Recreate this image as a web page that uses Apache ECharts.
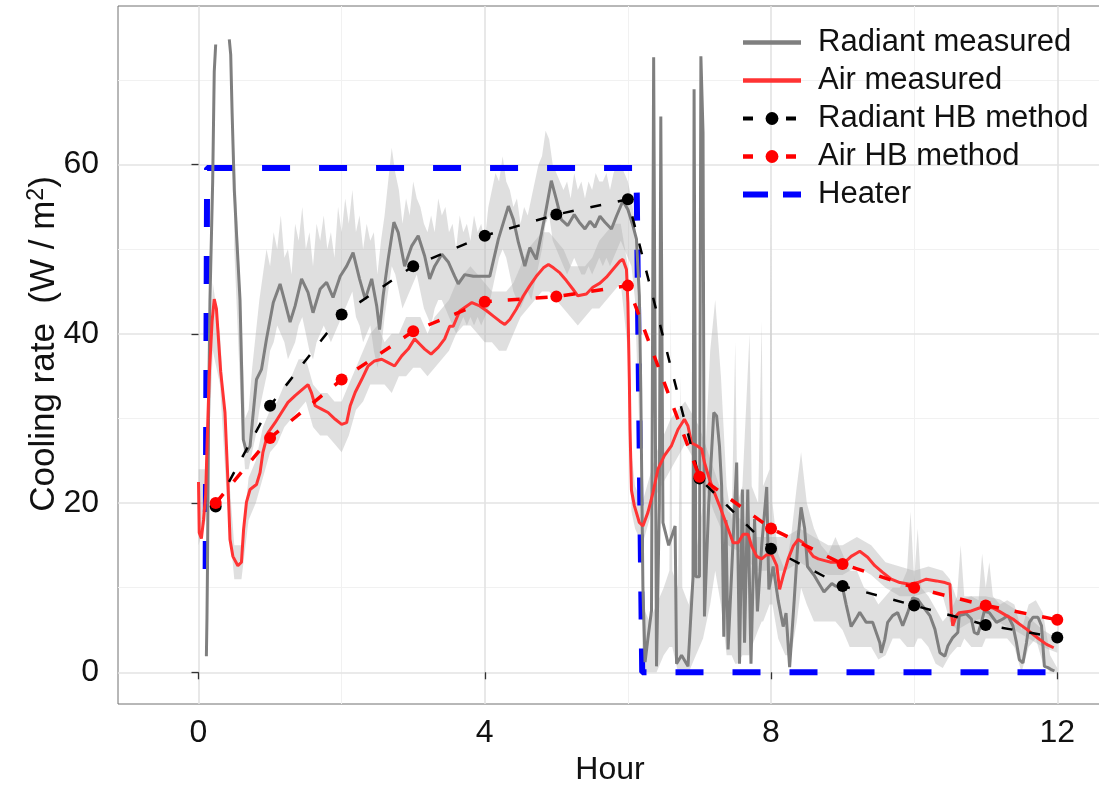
<!DOCTYPE html>
<html><head><meta charset="utf-8">
<script src="https://cdn.jsdelivr.net/npm/echarts@6/dist/echarts.min.js"></script>
<style>html,body{margin:0;padding:0;background:#fff}#c{width:1099px;height:786px}</style>
</head><body><div id="c"></div>
<script>
// ---------------- data ----------------
const xTicks = [0, 4, 8, 12];
const yTicks = [0, 20, 40, 60];
const xMinor = [2, 6, 10];
const yMinor = [10, 30, 50, 70];

const hbHours   = [0.24, 1, 2, 3, 4, 5, 6, 7, 8, 9, 10, 11, 12];
const radiantHB = [19.6, 31.5, 42.3, 48.0, 51.6, 54.1, 55.9, 22.9, 14.6, 10.2, 7.9, 5.6, 4.1];
const airHB     = [20.0, 27.7, 34.6, 40.3, 43.8, 44.4, 45.7, 23.1, 17.0, 12.8, 10.0, 7.9, 6.2];

const heaterH = [0.10, 0.12, 6.12, 6.20, 11.92];
const heaterV = [12.2, 59.6, 59.6, 0, 0];

const radH = [0.110,0.118,0.125,0.14,0.16,0.198,0.22,0.24,0.30,
  0.43,0.45,0.47,0.50,0.53,0.58,0.626,0.673,0.72,0.765,0.81,0.88,0.95,1.045,1.14,1.21,1.28,1.35,1.44,1.53,1.60,1.70,1.79,1.88,1.98,
  2.07,2.16,2.25,2.33,2.42,2.49,2.53,2.58,2.65,2.73,2.79,2.88,2.98,3.07,3.16,3.23,3.30,3.40,3.49,3.58,3.63,3.72,3.84,4.07,4.19,
  4.33,4.40,4.47,4.56,4.63,4.72,4.84,4.93,5.00,5.07,5.16,5.25,5.32,5.40,5.47,5.54,5.61,5.68,5.77,5.84,5.93,6.00,6.07,6.12,6.16,
  6.18,6.21,6.24,6.28,6.33,6.36,6.40,6.44,6.46,6.49,6.57,6.66,6.68,6.75,6.84,6.91,6.925,6.95,7.00,7.02,7.05,7.07,7.13,7.20,7.24,
  7.28,7.31,7.34,7.37,7.40,7.44,7.52,7.56,7.60,7.63,7.675,7.72,7.77,7.81,7.87,7.94,7.97,8.03,8.10,8.17,8.21,8.26,8.32,8.38,8.42,
  8.47,8.51,8.60,8.74,8.85,8.90,9.00,9.05,9.12,9.20,9.24,9.33,9.42,9.52,9.54,9.59,9.63,9.70,9.77,
  9.84,9.91,9.98,10.05,10.12,10.22,10.29,10.36,10.43,10.47,10.54,10.61,10.63,10.73,10.80,10.84,10.89,10.94,10.98,11.05,11.15,
  11.24,11.31,11.38,11.43,11.47,11.52,11.57,11.61,11.66,11.73,11.78,11.80,11.82,11.87,11.91,11.96];
const radV = [1.9,6.3,12,30,44,58,71,74.2,'-',
  74.8,73,66,57,52,44,27.5,26,26.7,30.7,34.6,35.8,39.4,43.7,45.9,43.7,41.4,43.3,46.5,44.9,42.5,45.3,46.1,44.3,46.8,
  48,49.6,46.5,44.1,46.5,43.3,40.5,44.5,48.8,53.2,52,48,50.4,51.6,49.2,46.5,48,49.4,48.5,46.8,45.9,47,46.8,46.8,51.2,
  55.1,53.5,50.8,48,50.2,48.8,53.9,58.1,55.9,53.5,52.8,54.1,53.2,52.4,53.3,52.6,53.9,53.2,52.4,53.9,55.7,54.7,52.8,51.2,44.5,
  33.5,10,1.2,4,7.3,72.7,0.7,20,65.7,17.7,15,17.3,1.0,2,0.7,11.2,68.9,11.3,11.3,72.8,63.8,6.6,20,30.7,30.3,
  26.7,22,4.2,18,2.7,10,24.8,1.0,21.6,3.5,21.6,1.0,18.1,7.2,15,21.9,9.8,12.5,8.5,5.4,7,0.6,8,16,19.5,
  17,12.5,11.5,9.5,10.5,10.2,10,8,5.4,6.5,7.1,5.9,5.9,3.5,2.3,3.9,5.9,6.7,7.05,
  5.5,7.05,8.8,8.6,7.8,6.7,5.1,2.3,1.9,3.1,4.1,4.7,6.7,6.9,6.3,4.7,4.5,5.9,7.2,7.05,5.9,
  6.3,6.7,5.5,3.5,1.5,1.1,3.5,5.9,6.5,6.5,5.5,3.1,0.7,0.55,0.35,0.15];

const airH = [0.0,0.01,0.04,0.07,0.10,0.12,0.15,0.19,0.22,0.25,0.27,0.31,0.37,0.41,0.44,0.48,0.55,0.60,0.63,0.67,0.72,0.81,0.86,
  0.90,0.97,1.07,1.16,1.25,1.35,1.46,1.53,1.58,1.63,1.72,1.81,1.91,2.00,2.07,2.12,2.19,2.28,2.37,2.46,2.56,2.65,2.74,2.84,2.93,
  3.02,3.09,3.16,3.25,3.35,3.44,3.51,3.56,3.65,3.75,3.82,3.93,4.03,4.12,4.21,4.28,4.35,4.44,4.54,4.63,4.72,4.82,4.89,4.96,5.05,
  5.14,5.23,5.30,5.42,5.51,5.61,5.70,5.79,5.89,5.93,5.98,6.00,6.02,6.03,6.05,6.09,6.16,6.21,6.28,6.35,6.42,6.51,6.61,6.70,6.79,
  6.84,6.89,6.96,7.03,7.07,7.14,7.21,7.28,7.35,7.42,7.47,7.54,7.61,7.68,7.73,7.80,7.87,7.94,8.01,8.08,8.12,8.17,8.24,8.31,8.38,
  8.45,8.52,8.59,8.66,8.75,8.84,8.94,9.03,9.12,9.20,9.24,9.35,9.45,9.56,9.68,9.80,9.94,10.05,10.17,10.31,10.43,10.50,10.52,10.54,
  10.59,10.63,10.78,10.91,11.01,11.10,11.19,11.29,11.38,11.47,11.57,11.66,11.75,11.85,11.95];
const airV = [22.5,16.5,15.8,18,21,27,35,41.5,44.1,43,40.5,35.5,30.7,22.8,15.7,13.7,12.6,13,16.9,20.1,21.6,22.2,23.6,
  26,28.3,29.5,30.7,31.9,32.7,33.5,34,33,31.5,31.1,30.7,29.9,29.3,29.5,31.5,33.1,34.6,36.2,36.8,37,36.6,36.2,37.4,38.2,
  39.4,38.8,38.2,37.6,38.4,39.4,40.9,40.9,42.7,43.3,43.7,43.3,42.7,42.1,41.5,41.1,41.7,42.9,44.5,45.7,46.8,47.8,48.2,47.8,47.2,
  46.3,45.3,44.5,44.7,45.5,46,46.7,47.6,48.6,48.8,47.6,43.7,34.6,28.7,21.5,19.7,17.7,17.3,18.9,21.2,24,25.6,26.8,28.7,29.9,
  29.1,27.1,26.8,26.4,24.8,22.8,21.2,19.7,18.1,16.5,15.3,15.3,16.3,16.3,14.9,13.7,13.4,13.9,13.9,12.6,9.8,11.4,13.4,14.9,15.7,
  15.3,14.5,13.7,13.4,13.2,13,13,13,13.7,14.1,14.3,13.6,12.6,11.8,11,10.6,10.4,10.6,11,10.8,10.6,10.4,7.05,5.5,
  6.7,7.05,7.2,7.6,7.8,7.6,7.2,6.7,6.3,5.7,5.1,4.5,3.9,3.3,2.9];

// light grey uncertainty bands
const radBandH = [0.50,0.55,0.60,0.65,0.70,0.75,0.80,0.85,0.90,0.95,1.00,1.05,1.10,1.15,1.20,1.25,1.30,1.35,1.40,1.45,1.50,1.55,
  1.60,1.65,1.70,1.75,1.80,1.85,1.90,1.95,2.00,2.05,2.10,2.15,2.20,2.25,2.30,2.35,2.40,2.45,2.50,2.55,2.60,2.65,2.70,2.75,2.80,
  2.85,2.90,2.95,3.00,3.05,3.10,3.15,3.20,3.25,3.30,3.35,3.40,3.45,3.50,3.55,3.60,3.65,3.70,3.75,3.80,3.85,3.90,3.95,4.00,4.05,
  4.10,4.15,4.20,4.25,4.30,4.35,4.40,4.45,4.50,4.55,4.60,4.65,4.70,4.75,4.80,4.85,4.90,4.95,5.00,5.05,5.10,5.15,5.20,5.25,5.30,
  5.35,5.40,5.45,5.50,5.55,5.60,5.65,5.70,5.75,5.80,5.85,5.90,5.95,6.00,6.05,6.10,6.15];
const radBandLo = [50,40,30,24,24,26,28,31,33,35,38,39,41,40,39,37,38,39,41,42,40,38,37,39,40,41,40,39,40,41,42,43,44,45,42,41,
  39,40,41,38,36,38,42,45,48,47,45,43,44,45,46,47,45,43,42,41,43,44,44,43,42,41,40,41,42,41,42,41,42,41,42,43,45,47,49,50,49,47,
  45,44,43,44,45,44,46,48,50,53,54,51,50,49,48,47,48,49,48,47,47,48,47,48,49,48,49,48,49,50,51,50,49,48,44,30];
const radBandHi = [62,52,42,30,31,36,40,44,47,50,48,52,50,54,49,50,47,53,51,55,50,52,48,53,51,54,50,52,49,55,52,56,53,57,52,54,
  50,53,51,52,47,51,54,58,62,59,57,53,56,54,58,56,55,53,52,54,52,56,54,55,52,53,50,54,52,53,51,54,52,53,51,55,57,59,58,61,58,57,
  55,56,53,55,54,56,58,60,61,64,63,60,59,58,57,58,56,59,57,58,56,58,57,59,58,58,59,57,59,60,60,59,58,56,53,46];

const radBand2H  = [6.20,6.30,6.40,6.50,6.58,6.60,6.62,6.70,6.74,6.76,6.85,6.95,7.05,7.15,7.22,7.30,7.38,7.45,7.50,7.53,7.60,
  7.70,7.73,7.82,7.87,7.89,7.98,8.00,8.02,8.10,8.20,8.28,8.36,8.42,8.50,8.60,8.70,8.80,8.90,9.00,9.10,9.20,9.30,9.40,9.50,9.60,
  9.70,9.80,9.90,9.95,10.00,10.05,10.10,10.20,10.30,10.40,10.50,10.60,10.65,10.70,10.80,10.90,10.95,11.00,11.05,11.10,11.20,
  11.30,11.40,11.50,11.60,11.70,11.80,11.90,12.00];
const radBand2Lo = [0,0,0,2,3,3,3,0,0,0,0,2,4,8,12,8,2,2,1,1,2,2,3,5,6,6,8,8,8,4,2,2,6,10,8,6,6,6,6,5,3,3,3,3,1.5,2,
  4,4,3,3,3,4,4,3,1,0.5,2,3,3,4,3,3,3,4,4,4,4,4,3,0,3,4,1,0,0];
const radBand2Hi = [8,6,8,10,12,43,12,10,35,10,8,14,20,38,44,35,22,18,39,20,22,40,22,20,41.5,22,24,55,20,14,12,16,22,26,20,17,
  15,14,16,14,12,12,10,9.5,8,9,10,10,12,19,11,17,10,9,7.5,6,7,9,15,9,9,8.5,14,10,13,9,8,8.5,8,5,8,8.5,7,2,0.5];

const airBandH = [0.0,0.1,0.2,0.3,0.4,0.5,0.6,0.7,0.8,0.9,1.0,1.1,1.2,1.3,1.4,1.5,1.6,1.7,1.8,1.9,2.0,2.1,2.2,2.3,2.4,2.5,2.6,2.7,
  2.8,2.9,3.0,3.1,3.2,3.3,3.4,3.5,3.6,3.7,3.8,3.9,4.0,4.1,4.2,4.3,4.4,4.5,4.6,4.7,4.8,4.9,5.0,5.1,5.2,5.3,5.4,5.5,5.6,5.7,5.8,
  5.9,6.0,6.05,6.1,6.2,6.4,6.6,6.8,7.0,7.2,7.4,7.6,7.8,8.0,8.2,8.4,8.6,8.8,9.0,9.2,9.4,9.6,9.8,10.0,10.2,10.4,10.5,10.6,10.8,
  11.0,11.2,11.4,11.6,11.8,12.0];
const airBandLo = [15,18,38,34,20,11,11,18,20,23,26,27,29,30,31,32,29,28,28,27,26,28,31,32,34,34,34,33,35,35,36,36,35,36,37,38,
  40,41,41,40,39,39,38,38,40,42,43,44,45,45,44,43,42,41,42,43,43,44,45,46,38,19,17,15,21,24,27,24,19,15,14,12,12,12,13,12,11.5,
  11.5,12.5,11.5,10,9,9,9.5,9,6,5,6,6.5,5.8,5,4,3,2.3];
const airBandHi = [24,24,46,40,26,15,15,23,25,29,31,32,34,35,37,37,34,33,33,32,32,34,36,38,40,41,39,40,40,42,42,42,40,42,43,44,
  46,47,48,47,46,45,45,45,46,48,50,51,52,52,51,50,48,48,48,49,51,52,53,53,48,26,22,20,26,30,32,29,24,19,18,16,16,16,17,16,15,
  15,16,15,13,12.5,12,12.5,12,11,8.5,9,9,8.6,7.5,6.5,5,4];

// ---------------- chart ----------------
const FONT = 'Liberation Sans, Arial, sans-serif';
const pairs = (xs, ys) => xs.map((x, i) => [x, ys[i]]);

function band(name, xs, lo, hi, fill) {
  return {
    name: name, type: 'custom', coordinateSystem: 'cartesian2d', silent: true, z: 1,
    data: [[xs[0], lo[0]]], encode: { x: 0, y: 1 },
    renderItem: function (params, api) {
      const pts = [];
      for (let i = 0; i < xs.length; i++) pts.push(api.coord([xs[i], hi[i]]));
      for (let i = xs.length - 1; i >= 0; i--) pts.push(api.coord([xs[i], lo[i]]));
      return { type: 'polygon', shape: { points: pts }, style: { fill: fill } };
    }
  };
}

const majorGrid = { color: '#e3e3e3', width: 1.6, type: 'solid' };
const minorGrid = { color: '#f1f1f1', width: 1, type: 'solid' };
const gridLines = []
  .concat(xMinor.map(v => ({ xAxis: v, lineStyle: minorGrid })))
  .concat(yMinor.map(v => ({ yAxis: v, lineStyle: minorGrid })))
  .concat(xTicks.map(v => ({ xAxis: v, lineStyle: majorGrid })))
  .concat(yTicks.map(v => ({ yAxis: v, lineStyle: majorGrid })));

const noSymbol = { color: 'rgba(0,0,0,0)', borderWidth: 0 };

const chart = echarts.init(document.getElementById('c'), null, { renderer: 'canvas' });
chart.setOption({
  animation: false,
  textStyle: { fontFamily: FONT },
  grid: { left: 118, top: 6, width: 984, height: 698, outerBoundsMode: 'none', containLabel: false,
    show: true, borderColor: '#707070', borderWidth: 1, backgroundColor: 'transparent' },
  xAxis: {
    type: 'value', min: -1.125, max: 12.625,
    axisLine: { show: false },
    splitLine: { show: false },
    axisTick: { show: true, customValues: xTicks, length: 7, lineStyle: { color: '#333', width: 1.3 } },
    axisLabel: { customValues: xTicks, fontSize: 32, color: '#111', margin: 13, fontFamily: FONT },
    name: 'Hour', nameLocation: 'middle', nameGap: 50, nameMoveOverlap: false,
    nameTextStyle: { fontSize: 32, color: '#111', fontFamily: FONT }
  },
  yAxis: {
    type: 'value', min: -3.75, max: 78.75,
    axisLine: { show: false },
    splitLine: { show: false },
    axisTick: { show: true, customValues: yTicks, length: 7, lineStyle: { color: '#333', width: 1.3 } },
    axisLabel: { customValues: yTicks, fontSize: 32, color: '#111', margin: 19, fontFamily: FONT },
    name: '{t|Cooling rate  (W / m}{s|2}{t|)}', nameLocation: 'middle', nameGap: 55, nameRotate: 90, nameMoveOverlap: false,
    nameTextStyle: {
      color: '#111', fontFamily: FONT, padding: [0, 0, 0, 22],
      rich: { t: { fontSize: 35, color: '#111', fontFamily: FONT }, s: { fontSize: 23, color: '#111', fontFamily: FONT, padding: [0, 0, 15, 0] } }
    }
  },
  legend: {
    orient: 'vertical', left: 740, top: 27, padding: 0,
    itemWidth: 58, itemHeight: 16, itemGap: 7, selectedMode: false,
    textStyle: { fontSize: 31, color: '#111', fontFamily: FONT, padding: [0, 0, 0, 12] },
    data: [
      { name: 'Radiant measured', lineStyle: { width: 4.5 }, itemStyle: noSymbol },
      { name: 'Air measured', lineStyle: { width: 4.5 }, itemStyle: noSymbol },
      { name: 'Radiant HB method', lineStyle: { width: 4, type: [10, 33] } },
      { name: 'Air HB method', lineStyle: { width: 4.5, type: [10, 33] } },
      { name: 'Heater', lineStyle: { width: 6, type: [25, 15] }, itemStyle: noSymbol }
    ]
  },
  series: [
    { name: 'grid', type: 'line', data: [], silent: true, z: 0,
      markLine: { silent: true, z: 0, symbol: ['none', 'none'], label: { show: false }, animation: false, data: gridLines } },
    band('radBand', radBandH, radBandLo, radBandHi, 'rgba(170,170,170,0.38)'),
    band('radBand2', radBand2H, radBand2Lo, radBand2Hi, 'rgba(170,170,170,0.38)'),
    band('airBand', airBandH, airBandLo, airBandHi, 'rgba(170,170,170,0.38)'),
    { name: 'Heater', type: 'line', data: pairs(heaterH, heaterV), symbol: 'none', z: 2,
      lineStyle: { color: '#0000ff', width: 6, type: [28, 29] }, itemStyle: { color: '#0000ff' } },
    { name: 'Radiant measured', type: 'line', data: pairs(radH, radV), symbol: 'none', z: 3, connectNulls: false,
      lineStyle: { color: '#7f7f7f', width: 3 }, itemStyle: { color: '#7f7f7f' } },
    { name: 'Air measured', type: 'line', data: pairs(airH, airV), symbol: 'none', z: 4,
      lineStyle: { color: '#ff3333', width: 3 }, itemStyle: { color: '#ff3333' } },
    { name: 'Radiant HB method', type: 'line', data: pairs(hbHours, radiantHB), symbol: 'circle', symbolSize: 12, showSymbol: true, z: 5,
      lineStyle: { color: '#000', width: 2.5, type: [11, 17] }, itemStyle: { color: '#000' } },
    { name: 'Air HB method', type: 'line', data: pairs(hbHours, airHB), symbol: 'circle', symbolSize: 12, showSymbol: true, z: 6,
      lineStyle: { color: '#ff0000', width: 3.5, type: [12, 16] }, itemStyle: { color: '#ff0000' } }
  ]
});
</script></body></html>
